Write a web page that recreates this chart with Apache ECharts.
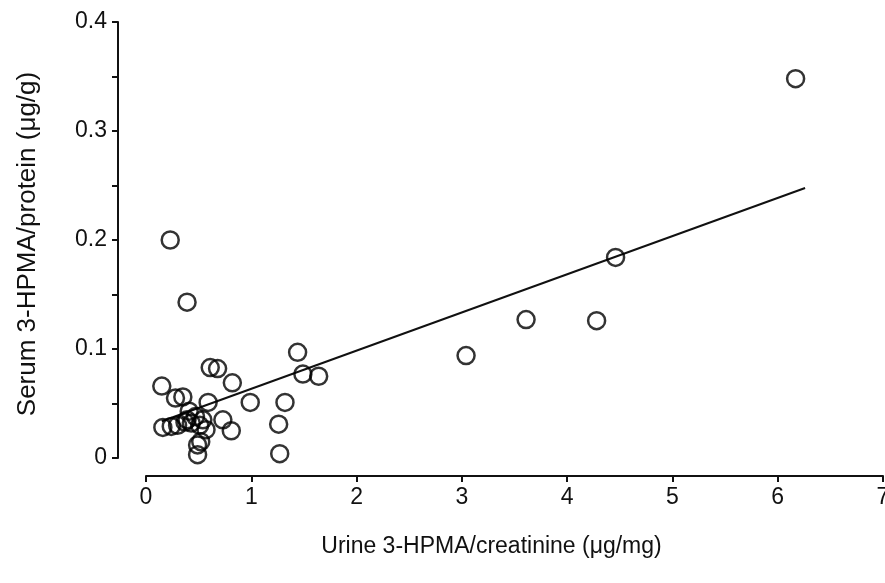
<!DOCTYPE html>
<html>
<head>
<meta charset="utf-8">
<script src="https://cdn.jsdelivr.net/npm/echarts@6/dist/echarts.min.js"></script>
<style>html,body{margin:0;padding:0;background:#fff}#c{width:885px;height:583px}</style>
</head>
<body>
<div id="c"></div>
<script>
const urineX = [6.17, 4.46, 3.61, 4.28, 3.04, 0.23, 0.39, 1.44, 1.49, 1.64, 0.61, 0.68, 0.82, 0.15,
  0.28, 0.35, 0.59, 0.99, 1.32, 1.26, 1.27, 0.73, 0.81, 0.16, 0.24, 0.41, 0.47, 0.39, 0.54, 0.43,
  0.51, 0.57, 0.52, 0.49, 0.49, 0.30, 0.37];
const serumY = [0.348, 0.184, 0.127, 0.126, 0.094, 0.200, 0.143, 0.097, 0.077, 0.075, 0.083, 0.082, 0.069, 0.066,
  0.055, 0.056, 0.051, 0.051, 0.051, 0.031, 0.004, 0.035, 0.025, 0.028, 0.029, 0.043, 0.038, 0.035, 0.035, 0.032,
  0.030, 0.026, 0.015, 0.012, 0.003, 0.030, 0.033];
const fitX = [0.15, 6.26];
const fitY = [0.0337, 0.2477];
const xTicks = [0, 1, 2, 3, 4, 5, 6, 7];
const yTicks = [0, 0.1, 0.2, 0.3, 0.4];

const pts = urineX.map((x, i) => [x, serumY[i]]);
const line = fitX.map((x, i) => [x, fitY[i]]);
const font = 'Liberation Sans, Arial, sans-serif';

const chart = echarts.init(document.getElementById('c'));
chart.setOption({
  animation: false,
  backgroundColor: '#fff',
  grid: { left: 146, right: 2, top: 22, bottom: 125, containLabel: false, outerBoundsMode: 'none' },
  xAxis: {
    type: 'value', min: 0, max: 7, interval: 1, offset: 18,
    name: 'Urine 3-HPMA/creatinine (\u03bcg/mg)', nameLocation: 'middle', nameGap: 59,
    nameTextStyle: { fontFamily: font, fontSize: 23, color: '#111', padding: [0, 46, 0, 0] },
    axisLine: { show: true, onZero: false, lineStyle: { color: '#111', width: 2 } },
    axisTick: { show: true, inside: false, length: 6, lineStyle: { color: '#111', width: 2 } },
    axisLabel: { fontFamily: font, fontSize: 23, color: '#111', margin: 10, hideOverlap: false,
      showMinLabel: true, showMaxLabel: true,
      formatter: v => xTicks.includes(v) ? String(v) : '' },
    splitLine: { show: false }
  },
  yAxis: {
    type: 'value', min: 0, max: 0.4, interval: 0.1, offset: 28,
    name: 'Serum 3-HPMA/protein (\u03bcg/g)', nameLocation: 'middle', nameGap: 77,
    nameTextStyle: { fontFamily: font, fontSize: 26, color: '#111', padding: [0, 8, 0, 0] },
    axisLine: { show: true, onZero: false, lineStyle: { color: '#111', width: 2 } },
    axisTick: { show: true, inside: false, length: 6, lineStyle: { color: '#111', width: 2 } },
    minorTick: { show: true, splitNumber: 2, length: 6, lineStyle: { color: '#111', width: 2 } },
    axisLabel: { fontFamily: font, fontSize: 23, color: '#111', margin: 11,
      formatter: v => { const t = yTicks.find(k => Math.abs(k - v) < 1e-9); return t === undefined ? '' : String(t); } },
    splitLine: { show: false }
  },
  series: [
    {
      type: 'line', data: line, showSymbol: false, symbol: 'none',
      lineStyle: { color: '#111', width: 2 }, z: 2
    },
    {
      type: 'scatter', data: pts, symbol: 'circle', symbolSize: 17,
      itemStyle: { color: 'rgba(0,0,0,0)', borderColor: '#000', borderWidth: 2.5 }, z: 3
    }
  ]
});
</script>
</body>
</html>
